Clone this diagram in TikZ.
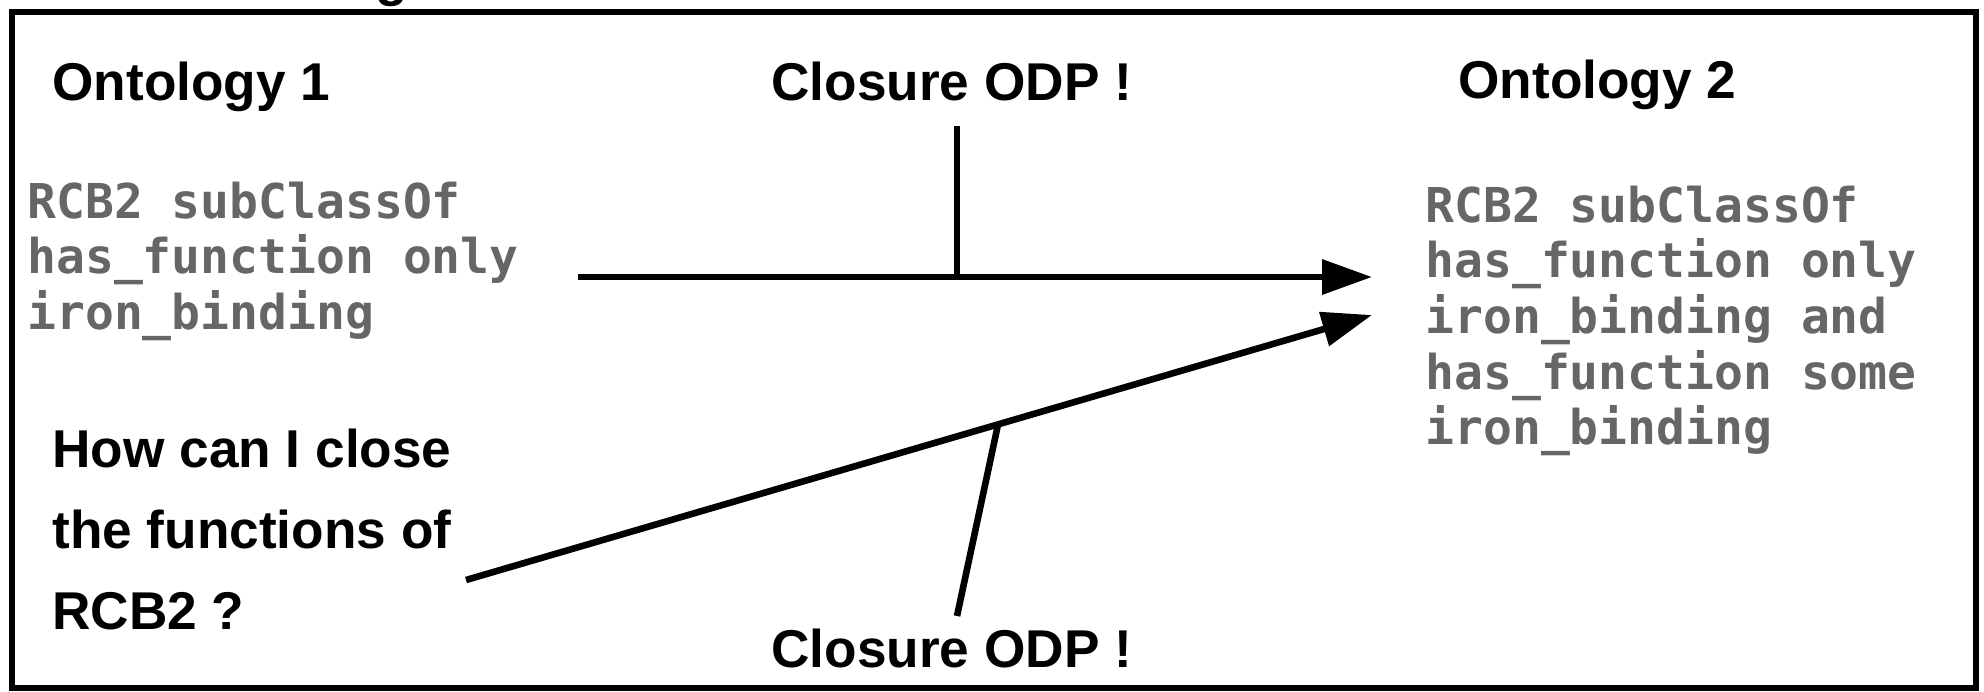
\documentclass[tikz,border=0pt]{standalone}
\usepackage{fontspec}
\setmainfont{Liberation Sans}
\newfontfamily\codefont{DejaVu Sans Mono}
\usetikzlibrary{arrows.meta}
\definecolor{codegray}{RGB}{102,102,102}
\tikzset{
  heading/.style={anchor=base west, inner sep=0pt, font=\fontsize{26.6}{32}\selectfont\bfseries},
  codetext/.style={anchor=base west, inner sep=0pt, text=codegray},
  frameline/.style={line width=3pt},
  link/.style={line width=3.3pt},
  arr/.style={line width=3.3pt, -{Triangle[length=25pt,width=17pt]}},
}
\begin{document}
\begin{tikzpicture}[x=0.5pt,y=-0.5pt]
\clip (0,0) rectangle (1984,691);
% frame
\draw[frameline] (12,12) rectangle (1976,688);
% cut-off title fragment
\node[heading] (title) at (375,-5) {g};
% headings
\node[heading] (ont1) at (52,100) {Ontology 1};
\node[heading] (ont2) at (1458,98) {Ontology 2};
\node[heading] (odptop) at (771,100) {Closure ODP !};
\node[heading] (odpbot) at (771,667) {Closure ODP !};
% code blocks
\node[codetext] (code1) at (27,218) {\fontsize{24}{27.5}\selectfont\codefont\bfseries
  \begin{tabular}[t]{@{}l@{}}RCB2 subClassOf\\has\_function only\\iron\_binding\end{tabular}};
\node[codetext] (code2) at (1425,222) {\fontsize{24}{27.8}\selectfont\codefont\bfseries
  \begin{tabular}[t]{@{}l@{}}RCB2 subClassOf\\has\_function only\\iron\_binding and\\has\_function some\\iron\_binding\end{tabular}};
% question
\node[heading, font=\fontsize{26.6}{40.5}\selectfont\bfseries] (question) at (52,467)
  {\begin{tabular}[t]{@{}l@{}}How can I close\\the functions of\\RCB2 ?\end{tabular}};
% connector points
\coordinate (hstart) at (578,277);
\coordinate (hend) at (1372,277);
\coordinate (hjoin) at (957,277);
\coordinate (vtop) at (957,126);
\coordinate (dstart) at (466,580);
\coordinate (dend) at (1372,315);
\coordinate (djoin) at (998,424.5);
\coordinate (bbot) at (957,616);
% connectors
\draw[arr] (hstart) -- (hend);
\draw[link] (vtop) -- (hjoin);
\draw[arr] (dstart) -- (dend);
\draw[link] (bbot) -- (djoin);
\end{tikzpicture}
\end{document}
